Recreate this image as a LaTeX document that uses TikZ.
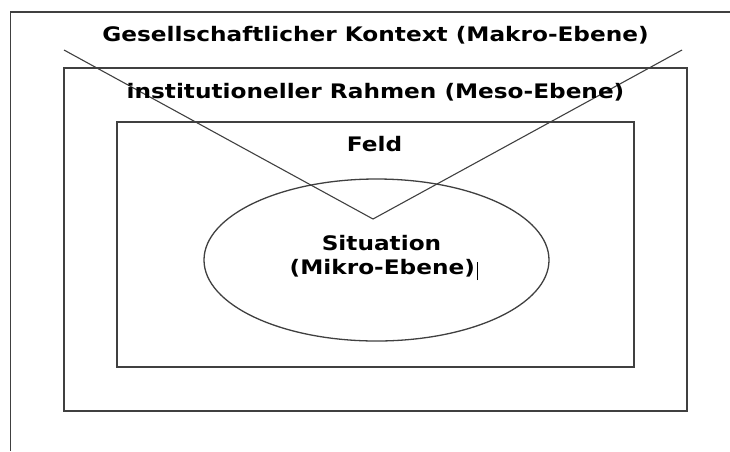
\documentclass[tikz,border=0pt]{standalone}
\usepackage{fontspec}
\setmainfont{DejaVu Sans}
\newfontfamily\lblfont[FakeStretch=1.16]{DejaVu Sans}
\usetikzlibrary{shapes.geometric}
\begin{document}
\begin{tikzpicture}[x=1pt,y=-1pt,
  frame/.style={draw=black!75,line width=1.3pt},
  label/.style={font=\lblfont\bfseries\fontsize{20}{24}\selectfont,text=black,inner sep=0pt,anchor=base,align=center}]
\useasboundingbox (0,0) rectangle (730,451);
% open outer frame: top and left edges only
\coordinate (tr) at (730,12);
\coordinate (tl) at (10.5,12);
\coordinate (bl) at (10.5,451);
\draw[frame] (tr) -- (tl) -- (bl);
% nested levels
\node[frame,minimum width=623pt,minimum height=343pt,inner sep=0pt] (meso) at (375.5,239.5) {};
\node[frame,minimum width=517pt,minimum height=245pt,inner sep=0pt] (feld) at (375.5,244.5) {};
\node[frame,ellipse,minimum width=345pt,minimum height=162pt,inner sep=0pt] (sit) at (376.5,260) {};
% the funnel converging on the situation
\coordinate (vl) at (64,50);
\coordinate (vr) at (682,50);
\coordinate (vtip) at (373,219);
\draw[frame,line width=1.1pt] (vl) -- (vtip) -- (vr);
% labels
\node[label] (makro) at (375.5,41.5) {Gesellschaftlicher Kontext (Makro-Ebene)};
\node[label] (mesot) at (375.5,98.5) {institutioneller Rahmen (Meso-Ebene)};
\node[label] (feldt) at (374.5,151) {Feld};
\node[label] (sitt) at (381.5,250) {Situation};
\node[label] (mikro) at (384,274) {(Mikro-Ebene)\hspace{2pt}\rule[-6pt]{1.4pt}{18pt}};
\end{tikzpicture}
\end{document}
